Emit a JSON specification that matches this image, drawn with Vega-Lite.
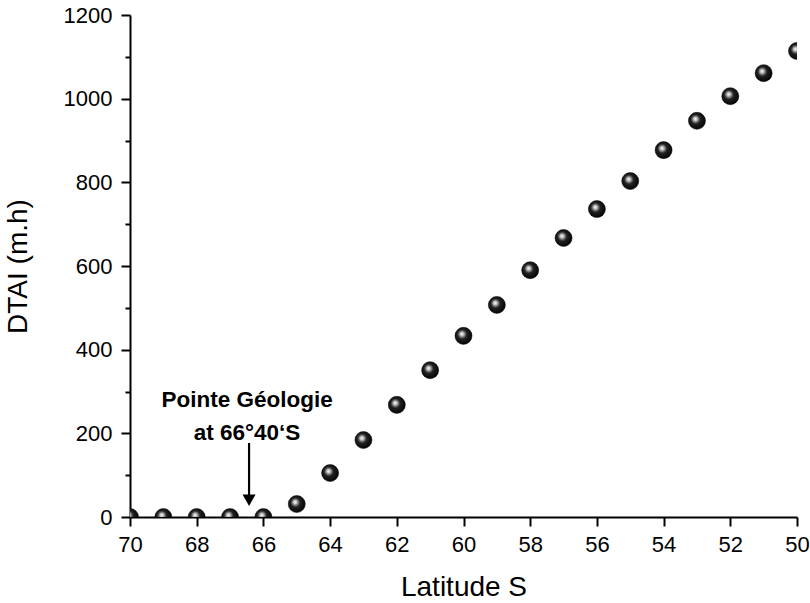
{
  "$schema": "https://vega.github.io/schema/vega-lite/v6.json",
  "width": 667,
  "height": 502,
  "autosize": "none",
  "padding": {"left": 130, "top": 15, "right": 13, "bottom": 86},
  "background": "white",
  "config": {
    "view": {"stroke": null},
    "axis": {
      "grid": false,
      "domainColor": "black",
      "domainWidth": 2,
      "tickColor": "black",
      "tickWidth": 2,
      "labelFont": "Liberation Sans",
      "labelFontSize": 22,
      "labelColor": "black",
      "titleFont": "Liberation Sans",
      "titleFontSize": 28,
      "titleFontWeight": "normal",
      "titleColor": "black"
    }
  },
  "datasets": {
    "pts": [
      {"lat": 70, "dtai": 0}, {"lat": 69, "dtai": 0}, {"lat": 68, "dtai": 0},
      {"lat": 67, "dtai": 0}, {"lat": 66, "dtai": 0}, {"lat": 65, "dtai": 31},
      {"lat": 64, "dtai": 105}, {"lat": 63, "dtai": 184}, {"lat": 62, "dtai": 268},
      {"lat": 61, "dtai": 351}, {"lat": 60, "dtai": 433}, {"lat": 59, "dtai": 507},
      {"lat": 58, "dtai": 590}, {"lat": 57, "dtai": 667}, {"lat": 56, "dtai": 736},
      {"lat": 55, "dtai": 803}, {"lat": 54, "dtai": 877}, {"lat": 53, "dtai": 947},
      {"lat": 52, "dtai": 1006}, {"lat": 51, "dtai": 1061}, {"lat": 50, "dtai": 1114}
    ],
    "note": [
      {"lat": 66.49, "dtai": 263, "label": "Pointe Géologie"},
      {"lat": 66.49, "dtai": 184, "label": "at 66°40‘S"}
    ],
    "arrow": [
      {"lat": 66.43, "top": 177, "bottom": 50, "head": 40}
    ]
  },
  "layer": [
    {
      "data": {"name": "pts"},
      "mark": {
        "type": "point",
        "filled": true,
        "clip": true,
        "size": 290,
        "opacity": 1,
        "stroke": "#000000",
        "strokeWidth": 0.5,
        "fill": {
          "gradient": "radial",
          "x1": 0.4, "y1": 0.38, "r1": 0,
          "x2": 0.45, "y2": 0.45, "r2": 0.6,
          "stops": [
            {"offset": 0, "color": "#ffffff"},
            {"offset": 0.15, "color": "#cccccc"},
            {"offset": 0.45, "color": "#222222"},
            {"offset": 1, "color": "#000000"}
          ]
        }
      },
      "encoding": {
        "x": {
          "field": "lat", "type": "quantitative",
          "scale": {"domain": [50, 70], "reverse": true, "nice": false, "zero": false},
          "axis": {
            "title": "Latitude S",
            "values": [70,69,68,67,66,65,64,63,62,61,60,59,58,57,56,55,54,53,52,51,50],
            "labelExpr": "datum.value % 2 === 0 ? datum.label : ''",
            "tickSize": {"condition": {"test": "datum.value % 2 === 0", "value": 9}, "value": 5},
            "labelPadding": 8,
            "labelFlush": false,
            "labelOverlap": false,
            "titlePadding": 18
          }
        },
        "y": {
          "field": "dtai", "type": "quantitative",
          "scale": {"domain": [0, 1200], "nice": false},
          "axis": {
            "title": "DTAI (m.h)",
            "format": "d",
            "values": [0,100,200,300,400,500,600,700,800,900,1000,1100,1200],
            "labelExpr": "datum.value % 200 === 0 ? datum.label : ''",
            "tickSize": {"condition": {"test": "datum.value % 200 === 0", "value": 9}, "value": 5},
            "labelPadding": 9,
            "labelFlush": false,
            "labelOverlap": false,
            "titlePadding": 31
          }
        }
      }
    },
    {
      "data": {"name": "arrow"},
      "mark": {"type": "rule", "color": "black", "strokeWidth": 2.2},
      "encoding": {
        "x": {"field": "lat", "type": "quantitative"},
        "y": {"field": "top", "type": "quantitative"},
        "y2": {"field": "bottom"}
      }
    },
    {
      "data": {"name": "arrow"},
      "mark": {"type": "point", "shape": "triangle-down", "filled": true, "color": "black", "size": 170, "opacity": 1},
      "encoding": {
        "x": {"field": "lat", "type": "quantitative"},
        "y": {"field": "head", "type": "quantitative"}
      }
    },
    {
      "data": {"name": "note"},
      "mark": {"type": "text", "font": "Liberation Sans", "fontWeight": "bold", "fontSize": 22.5, "color": "black", "baseline": "alphabetic", "align": "center"},
      "encoding": {
        "x": {"field": "lat", "type": "quantitative"},
        "y": {"field": "dtai", "type": "quantitative"},
        "text": {"field": "label"}
      }
    }
  ]
}
